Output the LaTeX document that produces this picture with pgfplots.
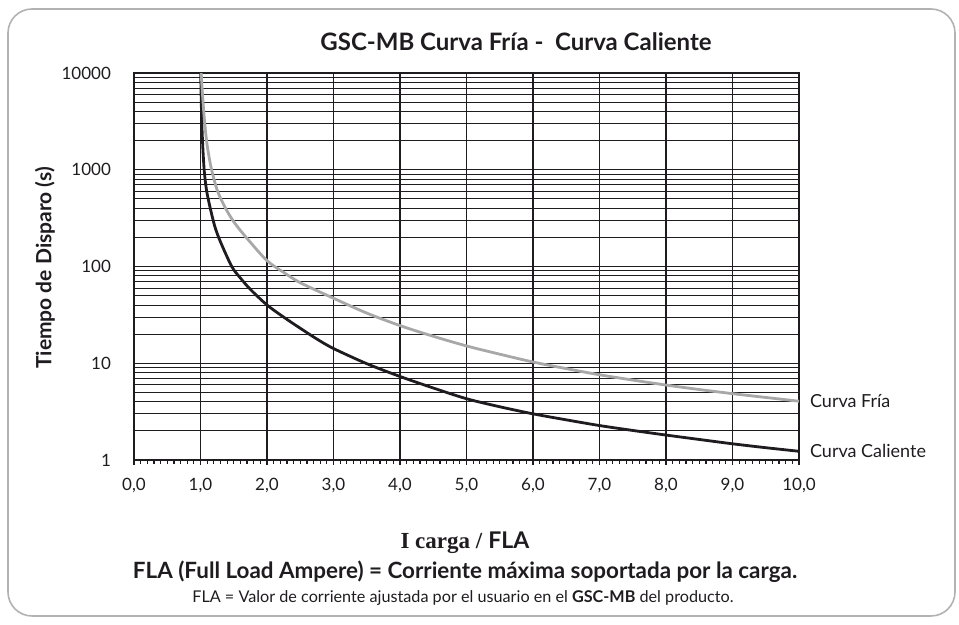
\documentclass[border=0pt]{standalone}
\usepackage{fontspec}
\setmainfont{Lato}
\newfontfamily\serifb{Liberation Serif}
\usepackage{pgfplots}
\pgfplotsset{compat=1.18}
\definecolor{cold}{rgb}{0.66,0.66,0.66}
\definecolor{ink}{rgb}{0.12,0.11,0.12}
\begin{document}
\begin{tikzpicture}[x=0.5pt,y=0.5pt]
\path (0,0) rectangle (959,625);
\draw[black!30, line width=0.8pt, rounded corners=12pt] (8,9) rectangle (955,616);
\begin{axis}[
  at={(67pt,82.5pt)}, anchor=south west,
  scale only axis, width=332.5pt, height=193.5pt,
  xmin=0, xmax=10, ymin=1, ymax=10000, ymode=log,
  clip mode=individual,
  /pgf/number format/assume math mode=true,
  xtick={0,1,2,3,4,5,6,7,8,9,10},
  xticklabels={{0,0},{1,0},{2,0},{3,0},{4,0},{5,0},{6,0},{7,0},{8,0},{9,0},{10,0}},
  minor x tick num=9,
  ytick={1,10,100,1000,10000},
  yticklabels={1,10,100,1000,10000},
  extra y ticks={1,10,100,1000,10000},
  extra y tick labels={},
  extra y tick style={major tick length=7.5pt, grid=none},
  major y tick style={draw=none},
  minor y tick style={draw=none},
  xmajorgrids, ymajorgrids, yminorgrids,
  major grid style={ink, line width=0.65pt},
  minor grid style={ink, line width=0.45pt},
  axis line style={ink, line width=0.8pt},
  tick style={ink, line width=0.6pt},
  tick align=outside,
  xtick pos=bottom, ytick pos=left,
  major tick length=2.5pt,
  minor tick length=2pt,
  tick label style={font=\fontsize{8.5}{10}\selectfont, text=ink},
  xticklabel style={yshift=-3pt},
  yticklabel style={xshift=-5.5pt},
]
\addplot[ink, line width=1.4pt, smooth] coordinates {
(1.003,10000) (1.015,4000) (1.03,2000) (1.055,1000) (1.09,620) (1.14,420) (1.215,260) (1.3,180) (1.47,100) (1.6,76) (1.75,58) (2.0,40) (2.25,30) (2.5,23) (2.75,17.8) (3,14.2) (3.5,9.9) (4,7.3) (4.5,5.55) (5,4.3) (5.5,3.55) (6,3.0) (6.5,2.6) (7,2.27) (7.5,2.02) (8,1.81) (8.5,1.63) (9,1.47) (9.5,1.34) (10,1.23)
};
\addplot[cold, line width=1.4pt, smooth] coordinates {
(1.01,10000) (1.03,6000) (1.06,3200) (1.1,1800) (1.16,1050) (1.25,620) (1.36,420) (1.5,290) (1.7,195) (2.0,115) (2.25,87) (2.5,68) (3.0,47) (3.5,33) (4,24.5) (4.5,19) (5,15.1) (5.5,12.4) (6,10.3) (6.5,8.8) (7,7.6) (7.5,6.7) (8,5.95) (8.5,5.35) (9,4.85) (9.5,4.43) (10,4.05)
};
\node[anchor=west, font=\fontsize{9}{11}\selectfont, text=ink, xshift=2pt] at (axis cs:10,4.05) {Curva Fría};
\node[anchor=west, font=\fontsize{9}{11}\selectfont, text=ink, xshift=2pt] at (axis cs:10,1.23) {Curva Caliente};
\end{axis}
\node[font=\bfseries\fontsize{12}{14}\selectfont, text=ink] at (516,583) {GSC-MB Curva Fría -\ \ Curva Caliente};
\node[rotate=90, font=\bfseries\fontsize{10.5}{12}\selectfont, text=ink] at (45,357) {Tiempo de Disparo (s)};
\node[font=\fontsize{11.5}{13}\selectfont, text=ink] at (465,82) {{\serifb\bfseries I carga /} \textbf{FLA}};
\node[font=\bfseries\fontsize{11.2}{13}\selectfont, text=ink] at (465,53) {FLA (Full Load Ampere) = Corriente máxima soportada por la carga.};
\node[font=\fontsize{8.1}{10}\selectfont, text=ink] at (463,27) {FLA = Valor de corriente ajustada por el usuario en el \textbf{GSC-MB} del producto.};
\end{tikzpicture}
\end{document}
